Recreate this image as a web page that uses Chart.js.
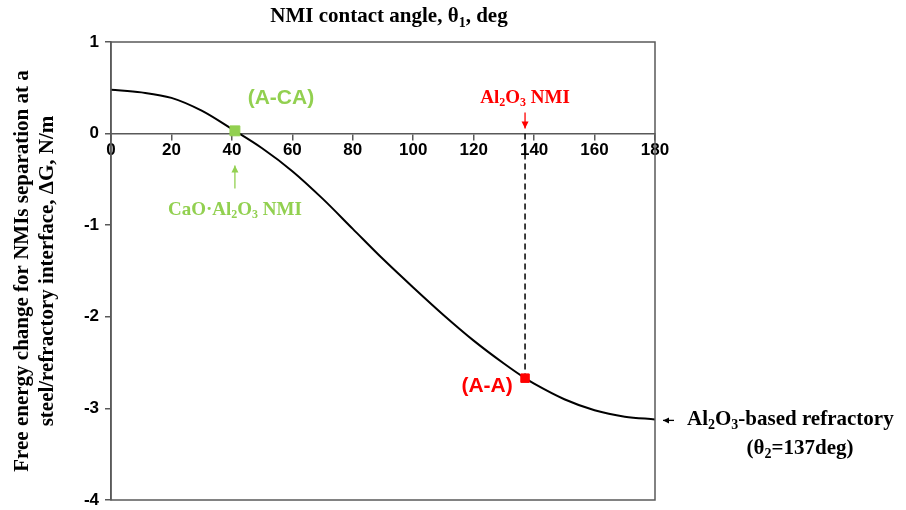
<!DOCTYPE html>
<html>
<head>
<meta charset="utf-8">
<script src="https://cdn.jsdelivr.net/npm/chart.js@4"></script>
<style>
  html, body { margin: 0; padding: 0; background: #fff; }
  #wrap { width: 906px; height: 510px; }
</style>
</head>
<body>
<div id="wrap"><canvas id="chart" width="906" height="510"></canvas></div>
<script>
// ── DATA ──
const angles = [0, 10, 20, 30, 40, 50, 60, 70, 80, 90, 100, 110, 120, 130, 137, 140, 150, 160, 170, 180];
const deltaG = [0.48, 0.45, 0.39, 0.25, 0.05, -0.16, -0.41, -0.71, -1.04, -1.37, -1.68, -1.98, -2.26, -2.51, -2.67, -2.73, -2.90, -3.02, -3.09, -3.12];
const caPoint = [41, 0.03];     // (A-CA)
const aaPoint = [137, -2.67];   // (A-A)
const xTicks = [0, 20, 40, 60, 80, 100, 120, 140, 160, 180];
const yTicks = [-4, -3, -2, -1, 0, 1];

const GREEN = '#92d050';
const RED = '#ff0000';
const SERIF = '"Liberation Serif", "Times New Roman", serif';
const SANS = '"Liberation Sans", Arial, sans-serif';

// ── TEXT WITH SUBSCRIPTS ──
function drawRich(ctx, parts, x, y, align, size, family, color) {
  const subSize = Math.round(size * 0.65);
  let total = 0;
  parts.forEach(p => {
    ctx.font = 'bold ' + (p.sub ? subSize : size) + 'px ' + family;
    p.w = ctx.measureText(p.t).width;
    total += p.w;
  });
  let cx = align === 'center' ? x - total / 2 : x;
  ctx.fillStyle = color;
  ctx.textBaseline = 'middle';
  ctx.textAlign = 'left';
  parts.forEach(p => {
    ctx.font = 'bold ' + (p.sub ? subSize : size) + 'px ' + family;
    ctx.fillText(p.t, cx, p.sub ? y + size * 0.3 : y);
    cx += p.w;
  });
}

function arrow(ctx, x1, y1, x2, y2, color, head) {
  ctx.strokeStyle = color;
  ctx.fillStyle = color;
  ctx.lineWidth = 1.3;
  ctx.beginPath();
  ctx.moveTo(x1, y1);
  ctx.lineTo(x2, y2);
  ctx.stroke();
  const a = Math.atan2(y2 - y1, x2 - x1);
  ctx.beginPath();
  ctx.moveTo(x2, y2);
  ctx.lineTo(x2 - head * Math.cos(a) + head * 0.5 * Math.sin(a), y2 - head * Math.sin(a) - head * 0.5 * Math.cos(a));
  ctx.lineTo(x2 - head * Math.cos(a) - head * 0.5 * Math.sin(a), y2 - head * Math.sin(a) + head * 0.5 * Math.cos(a));
  ctx.closePath();
  ctx.fill();
}

// ── BOX + ANNOTATIONS ──
const annotations = {
  id: 'annotations',
  afterDraw(chart) {
    const { ctx, chartArea: ca, scales: { x, y } } = chart;
    ctx.save();

    // plot box
    ctx.strokeStyle = '#595959';
    ctx.lineWidth = 1.5;
    ctx.strokeRect(ca.left, ca.top, ca.right - ca.left, ca.bottom - ca.top);

    // top title
    drawRich(ctx, [{ t: 'NMI contact angle, θ' }, { t: '1', sub: true }, { t: ', deg' }],
      (ca.left + ca.right) / 2 + 6, 17, 'center', 21, SERIF, '#000');

    const y0 = y.getPixelForValue(0);

    // (A-CA)
    const cx = x.getPixelForValue(caPoint[0]);
    const cy = y.getPixelForValue(caPoint[1]);
    ctx.font = 'bold 21px ' + SANS;
    ctx.fillStyle = GREEN;
    ctx.textAlign = 'center';
    ctx.textBaseline = 'middle';
    ctx.fillText('(A-CA)', cx + 46, cy - 33);
    arrow(ctx, cx, y0 + 55, cx, y0 + 32, GREEN, 7);
    drawRich(ctx, [{ t: 'CaO·Al' }, { t: '2', sub: true }, { t: 'O' }, { t: '3', sub: true }, { t: ' NMI' }],
      cx, y0 + 76, 'center', 19, SERIF, GREEN);

    // (A-A)
    const ax = x.getPixelForValue(aaPoint[0]);
    const ay = y.getPixelForValue(aaPoint[1]);
    drawRich(ctx, [{ t: 'Al' }, { t: '2', sub: true }, { t: 'O' }, { t: '3', sub: true }, { t: ' NMI' }],
      ax, y0 - 36, 'center', 19, SERIF, RED);
    arrow(ctx, ax, y0 - 21, ax, y0 - 5, RED, 7);
    ctx.font = 'bold 21px ' + SANS;
    ctx.fillStyle = RED;
    ctx.textAlign = 'center';
    ctx.fillText('(A-A)', ax - 38, ay + 8);

    // refractory label
    const rx = x.getPixelForValue(180);
    const ry = y.getPixelForValue(deltaG[deltaG.length - 1]);
    arrow(ctx, rx + 19, ry + 1, rx + 8, ry + 1, '#000', 6);
    drawRich(ctx, [{ t: 'Al' }, { t: '2', sub: true }, { t: 'O' }, { t: '3', sub: true }, { t: '-based refractory' }],
      rx + 32, ry, 'left', 21, SERIF, '#000');
    drawRich(ctx, [{ t: '(θ' }, { t: '2', sub: true }, { t: '=137deg)' }],
      rx + 145, ry + 29, 'center', 21, SERIF, '#000');

    ctx.restore();
  }
};

// ── CHART ──
new Chart(document.getElementById('chart'), {
  type: 'scatter',
  data: {
    datasets: [
      {
        label: 'dashed',
        data: [{ x: aaPoint[0], y: 0 }, { x: aaPoint[0], y: aaPoint[1] }],
        showLine: true,
        borderColor: '#000',
        borderWidth: 1.5,
        borderDash: [6, 4],
        pointRadius: 0,
        order: 2
      },
      {
        label: 'ΔG',
        data: angles.map((a, i) => ({ x: a, y: deltaG[i] })),
        showLine: true,
        borderColor: '#000',
        borderWidth: 2,
        cubicInterpolationMode: 'monotone',
        pointRadius: 0,
        order: 1
      },
      {
        label: 'A-CA',
        data: [{ x: caPoint[0], y: caPoint[1] }],
        pointStyle: 'rect',
        pointRadius: 7,
        backgroundColor: GREEN,
        borderColor: GREEN,
        order: 0
      },
      {
        label: 'A-A',
        data: [{ x: aaPoint[0], y: aaPoint[1] }],
        pointStyle: 'rect',
        pointRadius: 6,
        backgroundColor: RED,
        borderColor: RED,
        order: 0
      }
    ]
  },
  options: {
    responsive: false,
    animation: false,
    layout: { padding: { top: 42, right: 251, bottom: 10, left: 0 } },
    plugins: { legend: { display: false }, tooltip: { enabled: false } },
    scales: {
      x: {
        type: 'linear',
        position: { y: 0 },
        min: 0,
        max: 180,
        afterBuildTicks: s => { s.ticks = xTicks.map(v => ({ value: v })); },
        grid: { drawOnChartArea: false, tickLength: 6, color: '#595959', lineWidth: 1.5 },
        border: { color: '#595959', width: 1.5 },
        ticks: { color: '#000', font: { family: SANS, size: 17, weight: 'bold' }, padding: 1, maxRotation: 0 }
      },
      y: {
        min: -4,
        max: 1,
        afterBuildTicks: s => { s.ticks = yTicks.map(v => ({ value: v })); },
        afterFit: s => { s.width = 111; s.paddingTop = 0; s.paddingBottom = 0; },
        grid: { drawOnChartArea: false, tickLength: 6, color: '#595959', lineWidth: 1.5 },
        border: { color: '#595959', width: 1.5 },
        ticks: { color: '#000', font: { family: SANS, size: 17, weight: 'bold' }, padding: 6 },
        title: {
          display: true,
          text: ['Free energy change for NMIs separation at a', 'steel/refractory interface, ΔG, N/m'],
          color: '#000',
          font: { family: SERIF, size: 21, weight: 'bold', lineHeight: 1.15 },
          padding: { top: 11, bottom: 0 }
        }
      }
    }
  },
  plugins: [annotations]
});
</script>
</body>
</html>
